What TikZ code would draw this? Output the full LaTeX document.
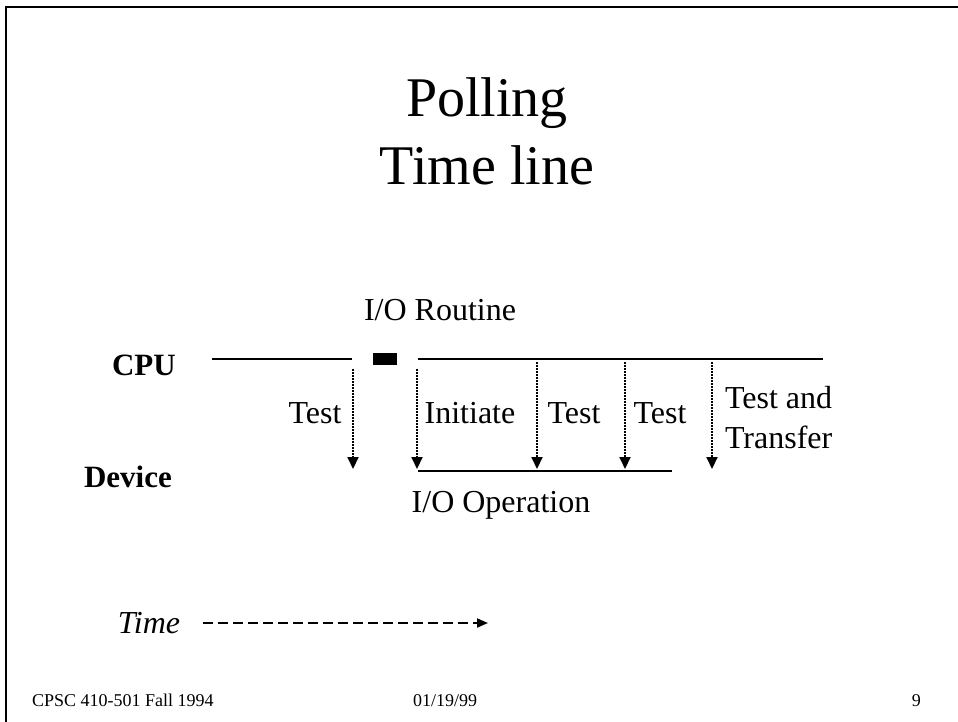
\documentclass[tikz,border=0pt]{standalone}
\usepackage{fontspec}
\setmainfont{Liberation Serif}
\usetikzlibrary{arrows.meta}
\begin{document}
\begin{tikzpicture}[x=1pt,y=-1pt,
  txt/.style={inner sep=0pt,outer sep=0pt,font=\fontsize{32}{40}\selectfont},
  lbl/.style={txt,anchor=base},
  hline/.style={line width=2.6pt},
  probe/.style={line width=2pt,dash pattern=on 2pt off 1pt,-{Triangle[length=12pt,width=11pt]}},
  timearrow/.style={line width=2pt,dash pattern=on 10pt off 5pt,-{Triangle[length=11pt,width=9pt]}},
  foot/.style={inner sep=0pt,anchor=base,font=\fontsize{18}{22}\selectfont}]
\useasboundingbox[fill=white] (0,0) rectangle (958,722);
% frame
\draw[line width=2pt] (6,722) -- (6,7) -- (958,7);
% title
\node[inner sep=0pt,anchor=base,align=center,font=\fontsize{56}{68}\selectfont] (title) at (487,185) {Polling\\Time line};
% labels
\node[lbl] (routine) at (440,320) {I/O Routine};
\node[lbl,anchor=base west,font=\fontsize{31}{38}\selectfont\bfseries] (cpu) at (112,375) {CPU};
\node[lbl,anchor=base west,font=\fontsize{31}{38}\selectfont\bfseries] (device) at (84,487) {Device};
% CPU line
\coordinate (cpuA) at (212,359);
\coordinate (cpuB) at (352,359);
\coordinate (cpuC) at (418,359);
\coordinate (cpuD) at (823,359);
\draw[hline] (cpuA) -- (cpuB);
\draw[hline] (cpuC) -- (cpuD);
\node[fill=black,inner sep=0pt,minimum width=24pt,minimum height=12pt] (busy) at (385,359) {};
% Device line
\coordinate (devA) at (418,471);
\coordinate (devB) at (672,471);
\draw[hline] (devA) -- (devB);
% probes
\coordinate (p1s) at (353,369); \coordinate (p1e) at (353,469);
\coordinate (p2s) at (417,369); \coordinate (p2e) at (417,469);
\coordinate (p3s) at (537,362); \coordinate (p3e) at (537,469);
\coordinate (p4s) at (625,362); \coordinate (p4e) at (625,469);
\coordinate (p5s) at (712,362); \coordinate (p5e) at (712,469);
\draw[probe] (p1s) -- (p1e);
\draw[probe] (p2s) -- (p2e);
\draw[probe] (p3s) -- (p3e);
\draw[probe] (p4s) -- (p4e);
\draw[probe] (p5s) -- (p5e);
% probe labels
\node[lbl] (test1) at (315,423) {Test};
\node[lbl] (init) at (470,423) {Initiate};
\node[lbl] (test2) at (574,423) {Test};
\node[lbl] (test3) at (660,423) {Test};
\node[lbl,anchor=base west,align=left] (testtr) at (725,448) {Test and\\Transfer};
\node[lbl] (ioop) at (501,512) {I/O Operation};
% time
\node[lbl,font=\fontsize{32}{40}\selectfont\itshape] (time) at (149,633) {Time};
\coordinate (tA) at (203,623);
\coordinate (tB) at (488,623);
\draw[timearrow] (tA) -- (tB);
% footer
\node[foot,anchor=base west] (course) at (32,706) {CPSC 410-501 Fall 1994};
\node[foot] (date) at (445,706) {01/19/99};
\node[foot,anchor=base east] (page) at (921,706) {9};
\end{tikzpicture}
\end{document}
